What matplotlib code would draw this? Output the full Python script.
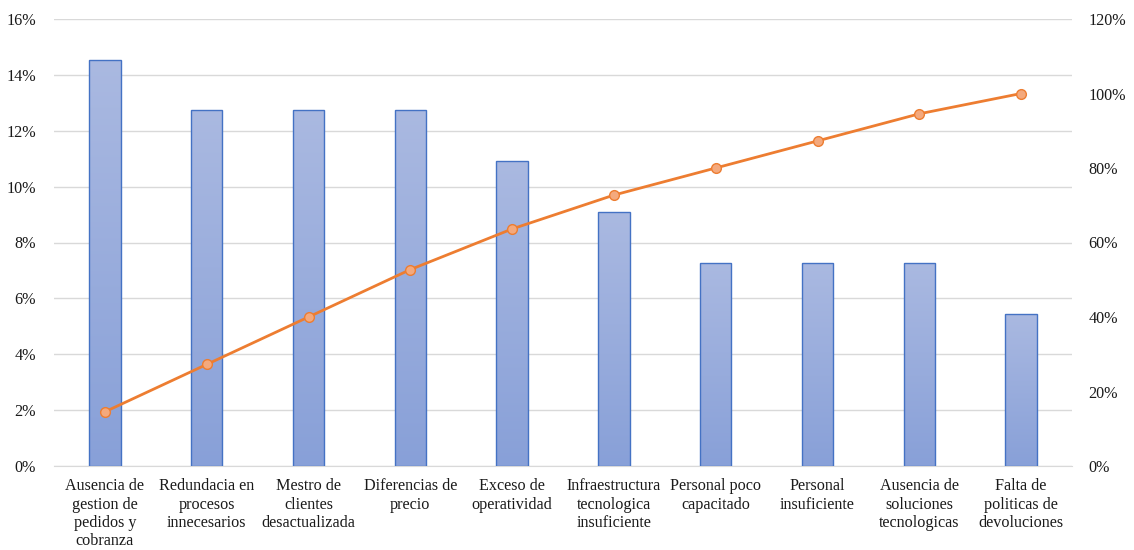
import numpy as np
import matplotlib.pyplot as plt
from matplotlib.ticker import FuncFormatter
from matplotlib.colors import LinearSegmentedColormap

categories = [
    'Ausencia de\ngestion de\npedidos y\ncobranza',
    'Redundacia en\nprocesos\ninnecesarios',
    'Mestro de\nclientes\ndesactualizada',
    'Diferencias de\nprecio',
    'Exceso de\noperatividad',
    'Infraestructura\ntecnologica\ninsuficiente',
    'Personal poco\ncapacitado',
    'Personal\ninsuficiente',
    'Ausencia de\nsoluciones\ntecnologicas',
    'Falta de\npoliticas de\ndevoluciones',
]
share = [14.55, 12.73, 12.73, 12.73, 10.91, 9.09, 7.27, 7.27, 7.27, 5.45]
cumulative = [14.55, 27.27, 40.0, 52.73, 63.64, 72.73, 80.0, 87.27, 94.55, 100.0]
left_ticks = [0, 2, 4, 6, 8, 10, 12, 14, 16]
right_ticks = [0, 20, 40, 60, 80, 100, 120]

plt.rcParams['font.family'] = ['Liberation Serif', 'DejaVu Serif']
fs = 11.6
txt = '#1a1a1a'

fig = plt.figure(figsize=(11.34, 5.5), dpi=100)
ax = fig.add_axes([54 / 1134, 84 / 550, (1072 - 54) / 1134, (466 - 19) / 550])
x = np.arange(len(categories))

# bars drawn as outlines, filled with a vertical gradient clipped to each bar
bars = ax.bar(x, share, width=0.31, facecolor='none', edgecolor='#4472C4', linewidth=1, zorder=3)
grad = np.linspace(0, 1, 256).reshape(-1, 1)
cmap = LinearSegmentedColormap.from_list('g', ['#88A0D8', '#AAB9E1'])
for b in bars:
    x0, w, h = b.get_x(), b.get_width(), b.get_height()
    im = ax.imshow(grad, extent=[x0, x0 + w, 0, h], origin='lower', cmap=cmap,
                   aspect='auto', zorder=2)
    im.set_clip_path(b)

ax.set_xlim(-0.5, len(categories) - 0.5)
ax.set_ylim(0, 16)
ax.set_yticks(left_ticks)
ax.yaxis.set_major_formatter(FuncFormatter(lambda v, p: f'{v:.0f}%'))
ax.set_xticks(x)
ax.set_xticklabels(categories, linespacing=1.18)
ax.grid(axis='y', color='#D9D9D9', linewidth=1, zorder=0)
ax.set_axisbelow(True)
for s in ['top', 'left', 'right']:
    ax.spines[s].set_visible(False)
ax.spines['bottom'].set_color('#D9D9D9')
ax.tick_params(axis='both', length=0, colors=txt, labelsize=fs)
ax.tick_params(axis='y', pad=13)
ax.tick_params(axis='x', pad=9)

ax2 = ax.twinx()
ax2.plot(x, cumulative, color='#ED7D31', linewidth=2, marker='o', markersize=7,
         markerfacecolor='#F4A97D', markeredgecolor='#ED7D31', zorder=4)
ax2.set_ylim(0, 120)
ax2.set_yticks(right_ticks)
ax2.yaxis.set_major_formatter(FuncFormatter(lambda v, p: f'{v:.0f}%'))
for s in ['top', 'left', 'right', 'bottom']:
    ax2.spines[s].set_visible(False)
ax2.tick_params(axis='y', length=0, colors=txt, labelsize=fs, pad=12)

fig.savefig('out.png', dpi=100)
